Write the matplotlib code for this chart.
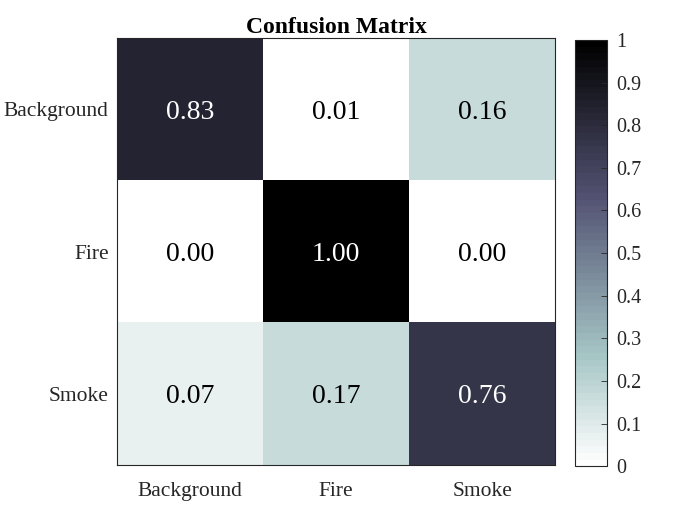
import numpy as np
import matplotlib
matplotlib.use("Agg")
from matplotlib import pyplot as plt

classes = ["Background", "Fire", "Smoke"]
values = np.array([
    [0.83, 0.01, 0.16],
    [0.00, 1.00, 0.00],
    [0.07, 0.17, 0.76],
])
cbar_ticks = [0, 0.1, 0.2, 0.3, 0.4, 0.5, 0.6, 0.7, 0.8, 0.9, 1]
cbar_labels = ["0", "0.1", "0.2", "0.3", "0.4", "0.5", "0.6", "0.7", "0.8", "0.9", "1"]

plt.rcParams["font.family"] = ["Liberation Serif", "DejaVu Serif"]

fig = plt.figure(figsize=(7, 5.25), dpi=100)
ax = fig.add_axes([0.167, 0.114, 0.626, 0.813])
cax = fig.add_axes([0.821, 0.112, 0.046, 0.812])

cmap = plt.get_cmap("bone_r", 64)
im = ax.imshow(values, cmap=cmap, vmin=0, vmax=1, aspect="auto")

for i in range(len(classes)):
    for j in range(len(classes)):
        v = values[i, j]
        color = "white" if v > 0.5 else "black"
        ax.text(j, i + 0.02, f"{v:.2f}", ha="center", va="center", fontsize=20, color=color)

ax.set_xticks(range(len(classes)))
ax.set_xticklabels(classes, fontsize=15.5, color="#262626")
ax.set_yticks(range(len(classes)))
ax.set_yticklabels(classes, fontsize=15.5, color="#262626")
ax.tick_params(axis="x", length=0, pad=12)
ax.tick_params(axis="y", length=0, pad=6)
ax.set_title("Confusion Matrix", fontsize=17, fontweight="bold", pad=4)
for s in ax.spines.values():
    s.set_color("#262626")
    s.set_linewidth(0.8)

cb = fig.colorbar(im, cax=cax, ticks=cbar_ticks)
cb.ax.set_yticklabels(cbar_labels, fontsize=14.5, color="#262626")
cb.ax.tick_params(direction="in", length=4, width=0.6, color="#262626", pad=7)
cb.outline.set_edgecolor("#262626")
cb.outline.set_linewidth(0.8)

fig.savefig("out.png", dpi=100)
